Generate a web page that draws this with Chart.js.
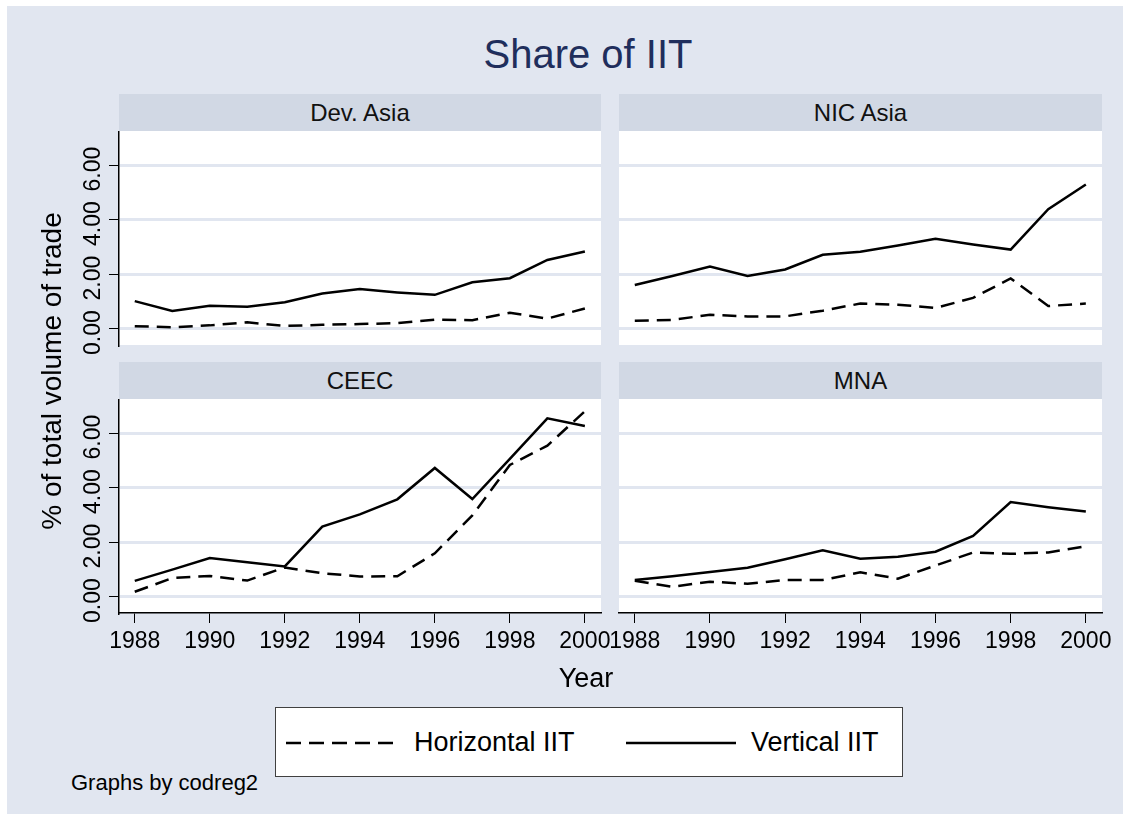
<!DOCTYPE html>
<html>
<head>
<meta charset="utf-8">
<title>Share of IIT</title>
<script src="https://cdn.jsdelivr.net/npm/chart.js@4.4.1/dist/chart.umd.min.js"></script>
<style>
  body {
    margin: 0;
    width: 1130px;
    height: 820px;
    overflow: hidden;
    background: #ffffff;
    font-family: "Liberation Sans", Arial, sans-serif;
    color: #000;
  }
  #bg {
    position: absolute;
    left: 7px;
    top: 6px;
    width: 1116px;
    height: 808px;
    background: #e1e6f0;
  }
  .txt { position: absolute; white-space: nowrap; }
  .strip {
    position: absolute;
    height: 37px;
    background: #d1d8e4;
    text-align: center;
    font-size: 24px;
    line-height: 37px;
    color: #111;
  }
  canvas { position: absolute; }
  #legend {
    position: absolute;
    left: 275px;
    top: 707px;
    width: 626px;
    height: 68px;
    background: #fff;
    border: 1px solid #404040;
  }
</style>
</head>
<body>
<div id="bg"></div>

<div class="txt" style="left:388px;top:30px;width:400px;text-align:center;font-size:40px;line-height:48px;color:#1f2e5c;">Share of IIT</div>

<div class="strip" style="left:119px;top:94px;width:482px;">Dev. Asia</div>
<div class="strip" style="left:619px;top:94px;width:483px;">NIC Asia</div>
<div class="strip" style="left:119px;top:362px;width:482px;">CEEC</div>
<div class="strip" style="left:619px;top:362px;width:483px;">MNA</div>

<canvas id="c0" width="585" height="234" style="left:40px;top:131px;"></canvas>
<canvas id="c1" width="525" height="214" style="left:600px;top:131px;"></canvas>
<canvas id="c2" width="585" height="270" style="left:40px;top:399px;"></canvas>
<canvas id="c3" width="525" height="270" style="left:600px;top:399px;"></canvas>

<div class="txt" style="left:-148px;top:355px;width:400px;text-align:center;font-size:28px;line-height:32px;transform:rotate(-90deg);">% of total volume of trade</div>

<div class="txt" style="left:486px;top:662px;width:200px;text-align:center;font-size:27px;line-height:32px;">Year</div>

<div id="legend">
  <svg style="position:absolute;left:10px;top:0px;" width="112" height="68">
    <line x1="0" y1="35" x2="110" y2="35" stroke="#000" stroke-width="2.5" stroke-dasharray="15,8"></line>
  </svg>
  <div class="txt" style="left:138px;top:18px;font-size:27px;line-height:32px;">Horizontal IIT</div>
  <svg style="position:absolute;left:350px;top:0px;" width="112" height="68">
    <line x1="0" y1="35" x2="110" y2="35" stroke="#000" stroke-width="2.5"></line>
  </svg>
  <div class="txt" style="left:475px;top:18px;font-size:27px;line-height:32px;">Vertical IIT</div>
</div>

<div class="txt" style="left:71px;top:770px;font-size:22px;line-height:26px;">Graphs by codreg2</div>

<script>
// --- data ---
const years = [1988, 1989, 1990, 1991, 1992, 1993, 1994, 1995, 1996, 1997, 1998, 1999, 2000];

const devAsiaHorizontal = [0.09, 0.05, 0.12, 0.23, 0.10, 0.14, 0.17, 0.20, 0.33, 0.31, 0.58, 0.37, 0.74];
const devAsiaVertical   = [1.01, 0.65, 0.84, 0.80, 0.97, 1.29, 1.45, 1.33, 1.24, 1.70, 1.85, 2.52, 2.83];

const nicAsiaHorizontal = [0.29, 0.32, 0.51, 0.45, 0.45, 0.66, 0.92, 0.88, 0.76, 1.13, 1.84, 0.83, 0.92];
const nicAsiaVertical   = [1.60, 1.93, 2.28, 1.93, 2.17, 2.71, 2.82, 3.05, 3.30, 3.09, 2.90, 4.38, 5.29];

const ceecHorizontal = [0.18, 0.68, 0.76, 0.59, 1.07, 0.86, 0.74, 0.75, 1.59, 2.98, 4.83, 5.54, 6.80];
const ceecVertical   = [0.58, 0.99, 1.42, 1.26, 1.11, 2.57, 3.02, 3.57, 4.72, 3.58, 5.05, 6.54, 6.26];

const mnaHorizontal = [0.58, 0.36, 0.55, 0.47, 0.61, 0.61, 0.89, 0.66, 1.14, 1.62, 1.57, 1.62, 1.85];
const mnaVertical   = [0.61, 0.75, 0.90, 1.06, 1.37, 1.70, 1.39, 1.46, 1.65, 2.23, 3.47, 3.28, 3.12];

const seriesNames = ['Horizontal IIT', 'Vertical IIT'];
const yTickValues = [0, 2, 4, 6];
const xTickValues = [1988, 1990, 1992, 1994, 1996, 1998, 2000];

const FONT = '"Liberation Sans", Arial, sans-serif';

// white plot region behind the lines
const plotBackground = {
  id: 'plotBackground',
  beforeDraw(chart) {
    const { ctx, chartArea } = chart;
    ctx.save();
    ctx.fillStyle = '#ffffff';
    ctx.fillRect(chartArea.left, chartArea.top, chartArea.right - chartArea.left, chartArea.bottom - chartArea.top);
    ctx.restore();
  }
};

// Stata style y labels, turned to read upwards
const rotatedYLabels = {
  id: 'rotatedYLabels',
  afterDraw(chart, args, opts) {
    if (!opts.show) return;
    const scale = chart.scales.y;
    const ctx = chart.ctx;
    ctx.save();
    ctx.font = '23px ' + FONT;
    ctx.fillStyle = '#000';
    ctx.textAlign = 'center';
    ctx.textBaseline = 'alphabetic';
    scale.ticks.forEach(t => {
      const py = scale.getPixelForValue(t.value);
      ctx.save();
      ctx.translate(scale.right - 19, py + 4);
      ctx.rotate(-Math.PI / 2);
      ctx.fillText(t.value.toFixed(2), 0, 0);
      ctx.restore();
    });
    ctx.restore();
  }
};

function makePanel(canvasId, horizontal, vertical, opts) {
  const ctx = document.getElementById(canvasId).getContext('2d');
  const toPoints = arr => years.map((yr, i) => ({ x: yr, y: arr[i] }));

  return new Chart(ctx, {
    type: 'line',
    data: {
      datasets: [
        {
          label: seriesNames[0],
          data: toPoints(horizontal),
          borderColor: '#000',
          borderWidth: 2.5,
          borderDash: [14, 8],
          pointRadius: 0,
          tension: 0
        },
        {
          label: seriesNames[1],
          data: toPoints(vertical),
          borderColor: '#000',
          borderWidth: 2.5,
          pointRadius: 0,
          tension: 0
        }
      ]
    },
    options: {
      responsive: false,
      animation: false,
      events: [],
      layout: { padding: { left: 0, top: 0, bottom: opts.padBottom || 0, right: opts.padRight } },
      plugins: {
        legend: { display: false },
        tooltip: { enabled: false },
        rotatedYLabels: { show: opts.yLabels }
      },
      scales: {
        x: {
          type: 'linear',
          min: 1987.58,
          max: 2000.43,
          display: opts.xAxis,
          afterBuildTicks: s => { s.ticks = xTickValues.map(v => ({ value: v })); },
          afterFit: s => { s.height = opts.xAxis ? 56 : 0; },
          border: { display: true, color: '#000', width: 1.5 },
          grid: {
            display: true,
            drawOnChartArea: false,
            drawTicks: true,
            tickLength: 10,
            tickColor: '#000',
            tickWidth: 1
          },
          ticks: {
            autoSkip: false,
            maxRotation: 0,
            minRotation: 0,
            padding: 5,
            color: '#000',
            font: { family: FONT, size: 23 },
            callback: v => String(v)
          }
        },
        y: {
          type: 'linear',
          min: -0.6,
          max: 7.25,
          afterBuildTicks: s => { s.ticks = yTickValues.map(v => ({ value: v })); },
          afterFit: s => { s.width = opts.yWidth; },
          border: { display: opts.yLabels, color: '#000', width: 1.5 },
          grid: {
            color: '#e1e6f0',
            lineWidth: 3,
            drawTicks: opts.yLabels,
            tickLength: 10,
            tickColor: '#000',
            tickWidth: 1
          },
          ticks: { display: false }
        }
      }
    },
    plugins: [plotBackground, rotatedYLabels]
  });
}

makePanel('c0', devAsiaHorizontal, devAsiaVertical, { xAxis: false, yLabels: true, yWidth: 79, padRight: 24, padBottom: 20 });
makePanel('c1', nicAsiaHorizontal, nicAsiaVertical, { xAxis: false, yLabels: false, yWidth: 19, padRight: 23 });
makePanel('c2', ceecHorizontal, ceecVertical, { xAxis: true, yLabels: true, yWidth: 79, padRight: 24 });
makePanel('c3', mnaHorizontal, mnaVertical, { xAxis: true, yLabels: false, yWidth: 19, padRight: 23 });
</script>
</body>
</html>
